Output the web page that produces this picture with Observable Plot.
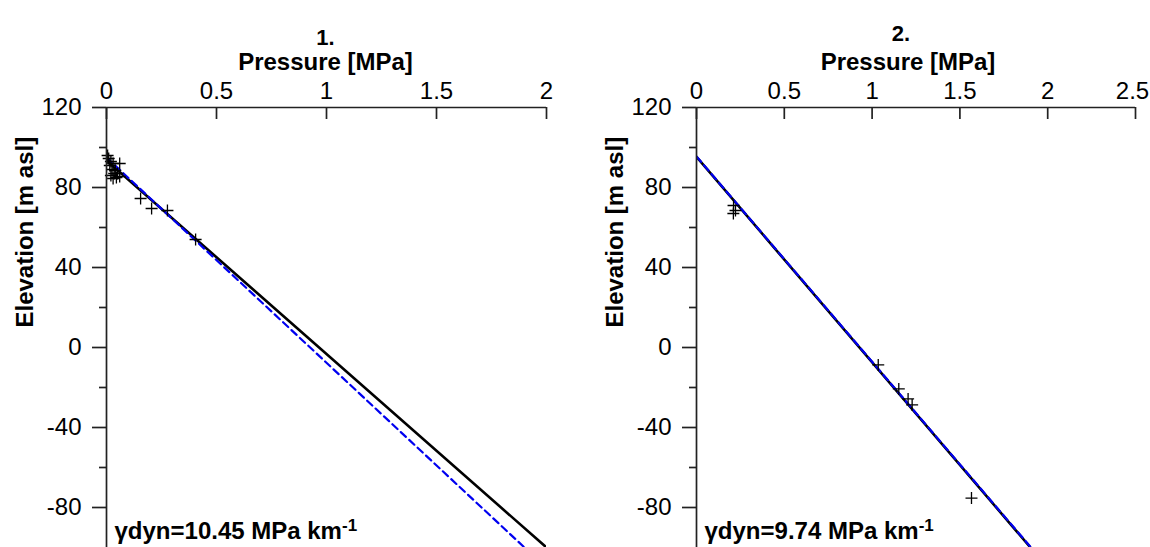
<!DOCTYPE html>
<html>
<head>
<meta charset="utf-8">
<script src="https://cdn.jsdelivr.net/npm/d3@7"></script>
<script src="https://cdn.jsdelivr.net/npm/@observablehq/plot@0.6"></script>
<style>
  html, body { margin: 0; padding: 0; background: #fff; }
  #wrap { display: flex; width: 1150px; height: 547px; overflow: hidden; }
  #wrap svg { display: block; overflow: visible; }
  .ticklab text { font-size: 24px !important; font-family: 'Liberation Sans', Arial, sans-serif; fill: #000; }
</style>
</head>
<body>
<div id="wrap"></div>
<script>
// ---------- data ----------
// Panel 1
const p1Pressure  = [0.005, 0.01, 0.02, 0.015, 0.03, 0.06, 0.025, 0.04, 0.035, 0.05, 0.02, 0.045, 0.06, 0.03, 0.155, 0.205, 0.277, 0.405];
const p1Elevation = [96, 94.5, 93, 91, 92, 92, 89, 88.5, 87, 87, 86, 85, 85.5, 84.5, 74.5, 69.5, 68.5, 54];
const p1FitP = [0, 2.0];          // black solid line
const p1FitE = [93.5, -100];
const p1RefP = [0, 1.9];          // blue dashed line
const p1RefE = [95, -100];
const p1Title = "1.";
const p1Gamma = "10.45";

// Panel 2
const p2Pressure  = [0.211, 0.222, 0.21, 1.035, 1.152, 1.205, 1.228, 1.566];
const p2Elevation = [71, 68.5, 67, -8.7, -20.7, -25.7, -28.7, -75.3];
const p2FitP = [0, 1.902];
const p2FitE = [95.3, -100];
const p2RefP = [0, 1.905];
const p2RefE = [95.5, -100];
const p2Title = "2.";
const p2Gamma = "9.74";

const p1XTicks = [0, 0.5, 1, 1.5, 2];
const p2XTicks = [0, 0.5, 1, 1.5, 2, 2.5];
const yMajorTicks = [120, 80, 40, 0, -40, -80];
const yMinorTicks = [100, 60, 20, -20, -60];
const yDomain = [-100, 120];

const xLabel = "Pressure [MPa]";
const yLabel = "Elevation [m asl]";

// ---------- helpers ----------
const cross = {
  draw(ctx, size) {
    const r = Math.sqrt(size / Math.PI);
    ctx.moveTo(-r, 0); ctx.lineTo(r, 0);
    ctx.moveTo(0, -r); ctx.lineTo(0, r);
  }
};
const zip = (a, b) => a.map((v, i) => ({p: v, e: b[i]}));

function panel(cfg) {
  const pts = zip(cfg.P, cfg.E);
  const fit = zip(cfg.fitP, cfg.fitE);
  const ref = zip(cfg.refP, cfg.refE);
  const xMax = cfg.xTicks[cfg.xTicks.length - 1];
  const svg = Plot.plot({
    width: 575,
    height: 547,
    marginLeft: cfg.ml,
    marginRight: cfg.mr,
    marginTop: 107,
    marginBottom: 0,
    style: {fontFamily: "'Liberation Sans', Arial, sans-serif", fontSize: "22px", color: "#000", background: "#fff"},
    x: {domain: [0, xMax]},
    y: {domain: yDomain},
    marks: [
      Plot.line(fit, {x: "p", y: "e", stroke: "#000", strokeWidth: 2.6, clip: true}),
      Plot.line(ref, {x: "p", y: "e", stroke: "#0000f0", strokeWidth: 2.2, strokeDasharray: "7,4.5", clip: true}),
      Plot.dot(pts, {x: "p", y: "e", symbol: cross, r: 6, stroke: "#000", strokeWidth: 1.3, fill: "none"}),
      Plot.ruleY([yDomain[1]], {stroke: "#222", strokeWidth: 1.7}),
      Plot.ruleX([0], {stroke: "#222", strokeWidth: 1.7}),
      Plot.ruleX(cfg.xTicks, {y1: yDomain[1], y2: yDomain[1] - 6, stroke: "#222", strokeWidth: 1.7}),
      Plot.axisX({anchor: "top", ticks: cfg.xTicks, tickSize: 0, tickPadding: 9, label: null, fontSize: 24, tickFormat: d => String(d), className: "ticklab"}),
      Plot.axisY({anchor: "left", ticks: yMajorTicks, tickSize: 14, tickPadding: 11, label: null, fontSize: 24, stroke: "#222", strokeWidth: 1.7, tickFormat: d => String(d), className: "ticklab"}),
      Plot.axisY({anchor: "left", ticks: yMinorTicks, tickSize: 7, label: null, stroke: "#222", strokeWidth: 1.7, tickFormat: () => ""}),
      Plot.text([xLabel], {frameAnchor: "top", dx: cfg.labelDx, dy: -45, fontSize: 24, fontWeight: "bold", lineAnchor: "middle"}),
      Plot.text([cfg.title], {frameAnchor: "top", dx: cfg.titleDx, dy: cfg.titleDy, fontSize: 22, fontWeight: "bold", lineAnchor: "middle"}),
      Plot.text([yLabel], {frameAnchor: "left", dx: cfg.yLabelDx, rotate: -90, fontSize: 24, fontWeight: "bold", lineAnchor: "middle"}),
      Plot.text(["γdyn=" + cfg.gamma + " MPa km"], {frameAnchor: "bottom-left", dx: 8, dy: -9, fontSize: 24, fontWeight: "bold", textAnchor: "start", lineAnchor: "bottom", className: "gamma"})
    ]
  });
  // add superscript -1
  d3.select(svg).selectAll(".gamma text").each(function() {
    d3.select(this).append("tspan").attr("dy", "-0.42em").attr("font-size", "17px").text("-1");
  });
  // keep the last x tick label inside the window
  const last = String(xMax);
  d3.select(svg).selectAll(".ticklab text").filter(function() { return this.textContent === last; })
    .attr("dx", cfg.lastDx);
  return svg;
}

const wrap = document.getElementById("wrap");
wrap.appendChild(panel({P: p1Pressure, E: p1Elevation, fitP: p1FitP, fitE: p1FitE, refP: p1RefP, refE: p1RefE,
  xTicks: p1XTicks, ml: 106, mr: 29, title: p1Title, gamma: p1Gamma, labelDx: -1, titleDx: -1, titleDy: -70, yLabelDx: -81, lastDx: 0}));
wrap.appendChild(panel({P: p2Pressure, E: p2Elevation, fitP: p2FitP, fitE: p2FitE, refP: p2RefP, refE: p2RefE,
  xTicks: p2XTicks, ml: 121, mr: 15, title: p2Title, gamma: p2Gamma, labelDx: -8, titleDx: -15, titleDy: -74, yLabelDx: -81, lastDx: -3}));
</script>
</body>
</html>
